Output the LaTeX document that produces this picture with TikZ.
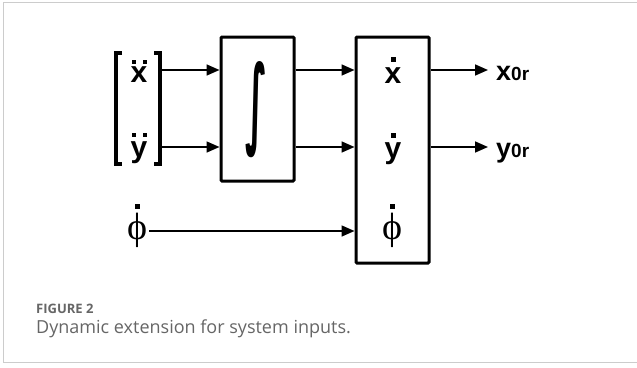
\documentclass[tikz,border=0pt]{standalone}
\usepackage{fontspec}
\setmainfont{Liberation Sans}
\newfontfamily\capfont{Open Sans}
\newfontfamily\serifphi{Liberation Serif}
\newfontfamily\intfont{DejaVu Sans}
\usetikzlibrary{arrows.meta}
\definecolor{framegray}{HTML}{CCCCCC}
\definecolor{capgray}{HTML}{666666}
\begin{document}
\begin{tikzpicture}[x=1pt,y=-1pt,
  blk/.style={draw=black,line width=3pt,rounded corners=1pt,inner sep=0pt},
  sig/.style={line width=1.6pt,-{Triangle[length=13pt,width=11pt]}},
  var/.style={font=\fontsize{30}{32}\selectfont\bfseries,inner sep=0pt,anchor=base},
  phi/.style={font=\serifphi\fontsize{38}{40}\selectfont,inner sep=0pt,anchor=base},
  outlbl/.style={font=\fontsize{27}{29}\selectfont\bfseries,inner sep=0pt,anchor=base west},
  dotmark/.style={fill=black}]
\useasboundingbox (0,0) rectangle (637,367);
\fill[white] (0,0) rectangle (637,367);
\draw[framegray,line width=1.5pt] (660,2.5) -- (3.5,2.5) -- (3.5,362.5) -- (660,362.5);
% blocks
\node[blk,minimum width=73pt,minimum height=144pt] (int) at (257.5,109) {};
\node[blk,minimum width=73pt,minimum height=226pt] (st) at (392.5,150) {};
\node[inner sep=0pt] (intsym) at (256.5,110) {\resizebox{22pt}{74pt}{\intfont\bfseries ∫}};
% left vector
\node[var] (xdd) at (139,82) {x};
\node[var] (ydd) at (139,157) {y};
\fill[dotmark] (131.5,59.5) rectangle (135.5,63.5);
\fill[dotmark] (142.5,59.5) rectangle (146.5,63.5);
\fill[dotmark] (131.5,133) rectangle (135.5,137);
\fill[dotmark] (142.5,133) rectangle (146.5,137);
\draw[line width=4pt] (122,53) -- (116,53) -- (116,164) -- (122,164);
\draw[line width=4pt] (154,53) -- (160,53) -- (160,164) -- (154,164);
\coordinate (bx1) at (161,70);
\coordinate (bx2) at (161,147);
% left phi
\node[phi] (phl) at (137,239.5) {ϕ};
\fill[dotmark] (135,204) rectangle (140,209);
% state labels
\node[var] (xd) at (393,83) {x};
\node[var] (yd) at (393,158) {y};
\node[phi] (phd) at (392,239.5) {ϕ};
\fill[dotmark] (390,204) rectangle (395,209);
\fill[dotmark] (391,57) rectangle (396,62);
\fill[dotmark] (391,133) rectangle (396,138);
% outputs
\node[outlbl] (xo) at (496,80) {x\fontsize{19}{20}\selectfont 0r};
\node[outlbl] (yo) at (496,157) {y\fontsize{19}{20}\selectfont 0r};
% arrows
\draw[sig] (bx1) -- (int.west |- bx1);
\draw[sig] (bx2) -- (int.west |- bx2);
\draw[sig] ([xshift=2pt]phl.east |- 0,231) -- (st.west |- 0,231);
\draw[sig] (int.east |- bx1) -- (st.west |- bx1);
\draw[sig] (int.east |- bx2) -- (st.west |- bx2);
\draw[sig] (st.east |- bx1) -- ([xshift=-8pt]xo.west |- bx1);
\draw[sig] (st.east |- bx2) -- ([xshift=-8pt]yo.west |- bx2);
% caption
\node[font=\capfont\fontsize{13}{15}\selectfont\bfseries,text=capgray,anchor=base west,inner sep=0pt] (fig) at (36,313) {FIGURE 2};
\node[font=\capfont\fontsize{18}{20}\selectfont,text=capgray,anchor=base west,inner sep=0pt] (cap) at (36,333) {Dynamic extension for system inputs.};
\end{tikzpicture}
\end{document}
